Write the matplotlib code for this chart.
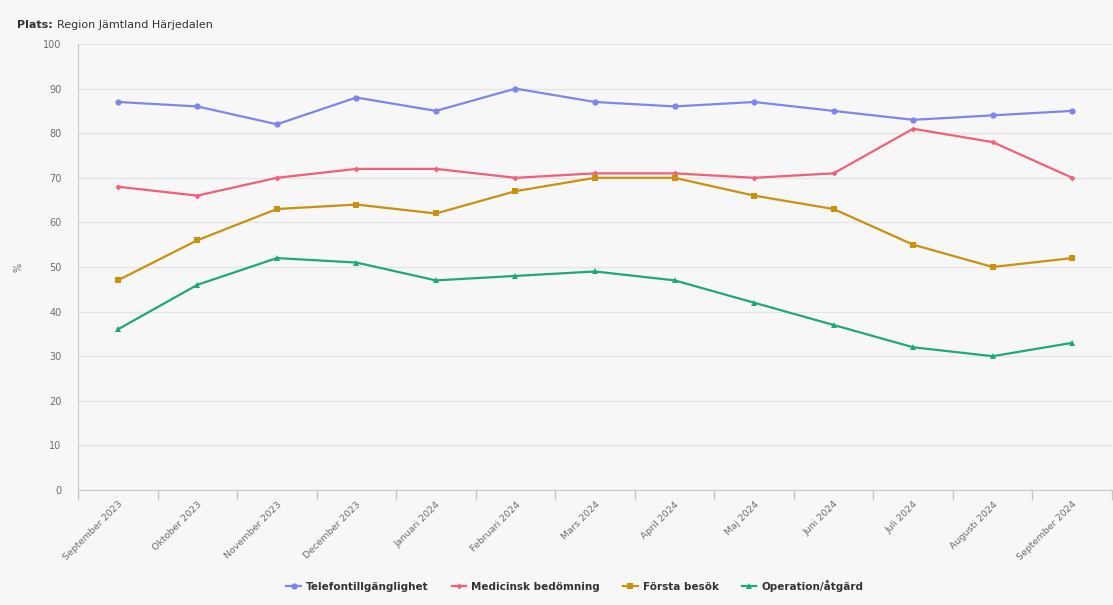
import matplotlib
matplotlib.use("Agg")
import matplotlib.pyplot as plt
import numpy as np

months = ["September 2023", "Oktober 2023", "November 2023", "December 2023",
          "Januari 2024", "Februari 2024", "Mars 2024", "April 2024", "Maj 2024",
          "Juni 2024", "Juli 2024", "Augusti 2024", "September 2024"]
telefon = [87, 86, 82, 88, 85, 90, 87, 86, 87, 85, 83, 84, 85]
medicinsk = [68, 66, 70, 72, 72, 70, 71, 71, 70, 71, 81, 78, 70]
forsta = [47, 56, 63, 64, 62, 67, 70, 70, 66, 63, 55, 50, 52]
operation = [36, 46, 52, 51, 47, 48, 49, 47, 42, 37, 32, 30, 33]

series = [
    ("Telefontillgänglighet", telefon, "#8085e9", "o", 4.5),
    ("Medicinsk bedömning", medicinsk, "#f0607a", "D", 3.0),
    ("Första besök", forsta, "#c8920f", "s", 4.5),
    ("Operation/åtgärd", operation, "#1fa97a", "^", 4.5),
]

bg = "#f7f7f7"
fig = plt.figure(figsize=(11.13, 6.05), dpi=100, facecolor=bg)
ax = fig.add_axes([78/1113, 1 - 490/605, (1112 - 78)/1113, (490 - 44)/605])
ax.set_facecolor(bg)

x = np.arange(len(months))
handles = []
for name, vals, col, mk, ms in series:
    h, = ax.plot(x, vals, color=col, marker=mk, markersize=ms, linewidth=1.6,
                 label=name, markeredgewidth=0)
    handles.append(h)

ax.set_xlim(-0.5, len(months) - 0.5)
ax.set_ylim(0, 100)
ax.set_yticks(range(0, 101, 10))
ax.yaxis.grid(True, color="#e4e4e4", linewidth=0.9)
ax.set_axisbelow(True)
ax.tick_params(axis="y", length=0, labelsize=7, labelcolor="#6e6e6e", pad=12)

ax.set_xticks(x)
ax.set_xticklabels(months, rotation=45, ha="right", rotation_mode="anchor",
                   fontsize=6.8, color="#6e6e6e")
ax.set_xticks(np.arange(-0.5, len(months), 1), minor=True)
ax.tick_params(axis="x", which="major", length=0, pad=7)
ax.tick_params(axis="x", which="minor", length=7, color="#c8c8c8", width=1)

for s in ["top", "right"]:
    ax.spines[s].set_visible(False)
ax.spines["left"].set_color("#c8c8c8")
ax.spines["bottom"].set_color("#c8c8c8")

ax.set_ylabel("%", fontsize=7, color="#6e6e6e", rotation=90, labelpad=14)

t1 = fig.text(17/1113, 1 - 25/605, "Plats:", fontsize=8, fontweight="bold",
              color="#333333", va="center")
fig.canvas.draw()
bb = t1.get_window_extent()
fig.text((bb.x1 + 4)/1113, 1 - 25/605, "Region Jämtland Härjedalen", fontsize=8,
         color="#333333", va="center")

leg = fig.legend(handles=handles, loc="center", bbox_to_anchor=(575/1113, 1 - 586/605),
                 ncol=4, frameon=False, fontsize=7.5, handlelength=1.4,
                 columnspacing=2.2, handletextpad=0.5)
for t in leg.get_texts():
    t.set_fontweight("bold")
    t.set_color("#333333")

fig.savefig("out.png", dpi=100, facecolor=bg)
